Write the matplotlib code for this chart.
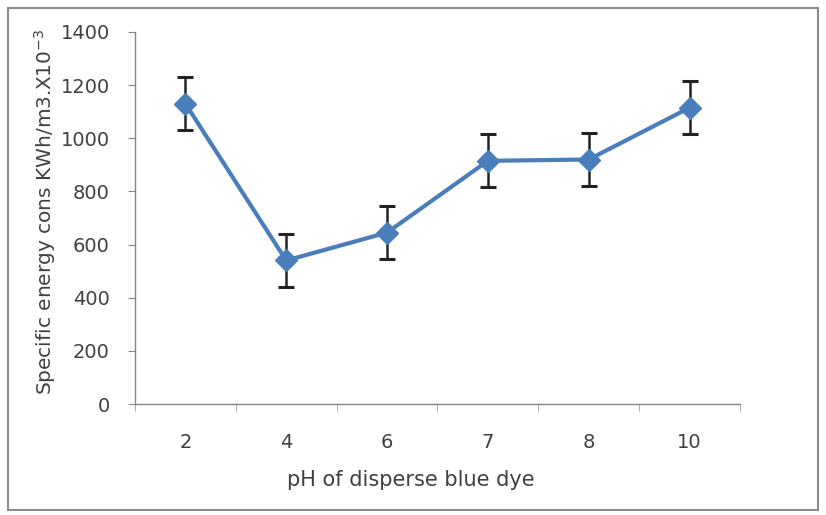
import matplotlib
matplotlib.use("Agg")
import matplotlib.pyplot as plt
from matplotlib.patches import Rectangle
import numpy as np

categories = ["2", "4", "6", "7", "8", "10"]
values = [1130, 540, 645, 915, 920, 1115]
errors = [100, 100, 100, 100, 100, 100]

plt.rcParams['font.family'] = ['DejaVu Sans']
text_color = '#404040'

fig = plt.figure(figsize=(8.26, 5.15), dpi=100)
ax = fig.add_axes([0.1634, 0.2155, 0.7325, 0.7225])

x = np.arange(len(categories))
ax.errorbar(x, values, yerr=errors, color='#4a7ebb', lw=3, marker='D', ms=11,
            mfc='#4a7ebb', mec='#4a7ebb', ecolor='#222222', elinewidth=1.8,
            capsize=6, capthick=2.2, zorder=3)

ax.set_xlim(-0.5, len(categories) - 0.5)
ax.set_ylim(0, 1400)
ax.set_yticks(np.arange(0, 1401, 200))
ax.set_xticks(x)
ax.set_xticklabels(categories)
ax.set_xticks(np.arange(-0.5, len(categories) + 0.5, 1), minor=True)
ax.tick_params(axis='x', which='major', length=0, pad=21, labelsize=14, colors=text_color)
ax.tick_params(axis='x', which='minor', length=5, direction='out', color='#a0a0a0')
ax.tick_params(axis='y', length=5, direction='out', color='#868686', labelsize=14,
               labelcolor=text_color, pad=13)
for s in ['top', 'right']:
    ax.spines[s].set_visible(False)
for s in ['left', 'bottom']:
    ax.spines[s].set_color('#868686')
    ax.spines[s].set_linewidth(1)

ax.set_xlabel("pH of disperse blue dye", fontsize=15, color=text_color)
ax.xaxis.set_label_coords((411 - 135) / 605, -(480 - 404) / 372)
ax.xaxis.label.set_va('center')
ax.set_ylabel("Specific energy cons KWh/m3.X10$^{-3}$", fontsize=14.5, color=text_color)
ax.yaxis.set_label_coords(-(135 - 45) / 605, (404 - 212) / 372)
ax.yaxis.label.set_va('center')

fig.patches.append(Rectangle((8/826, 5/515), 810/826, 502/515, transform=fig.transFigure,
                             fill=False, edgecolor='#8c8c8c', lw=1.5))

fig.savefig("out.png", dpi=100)
